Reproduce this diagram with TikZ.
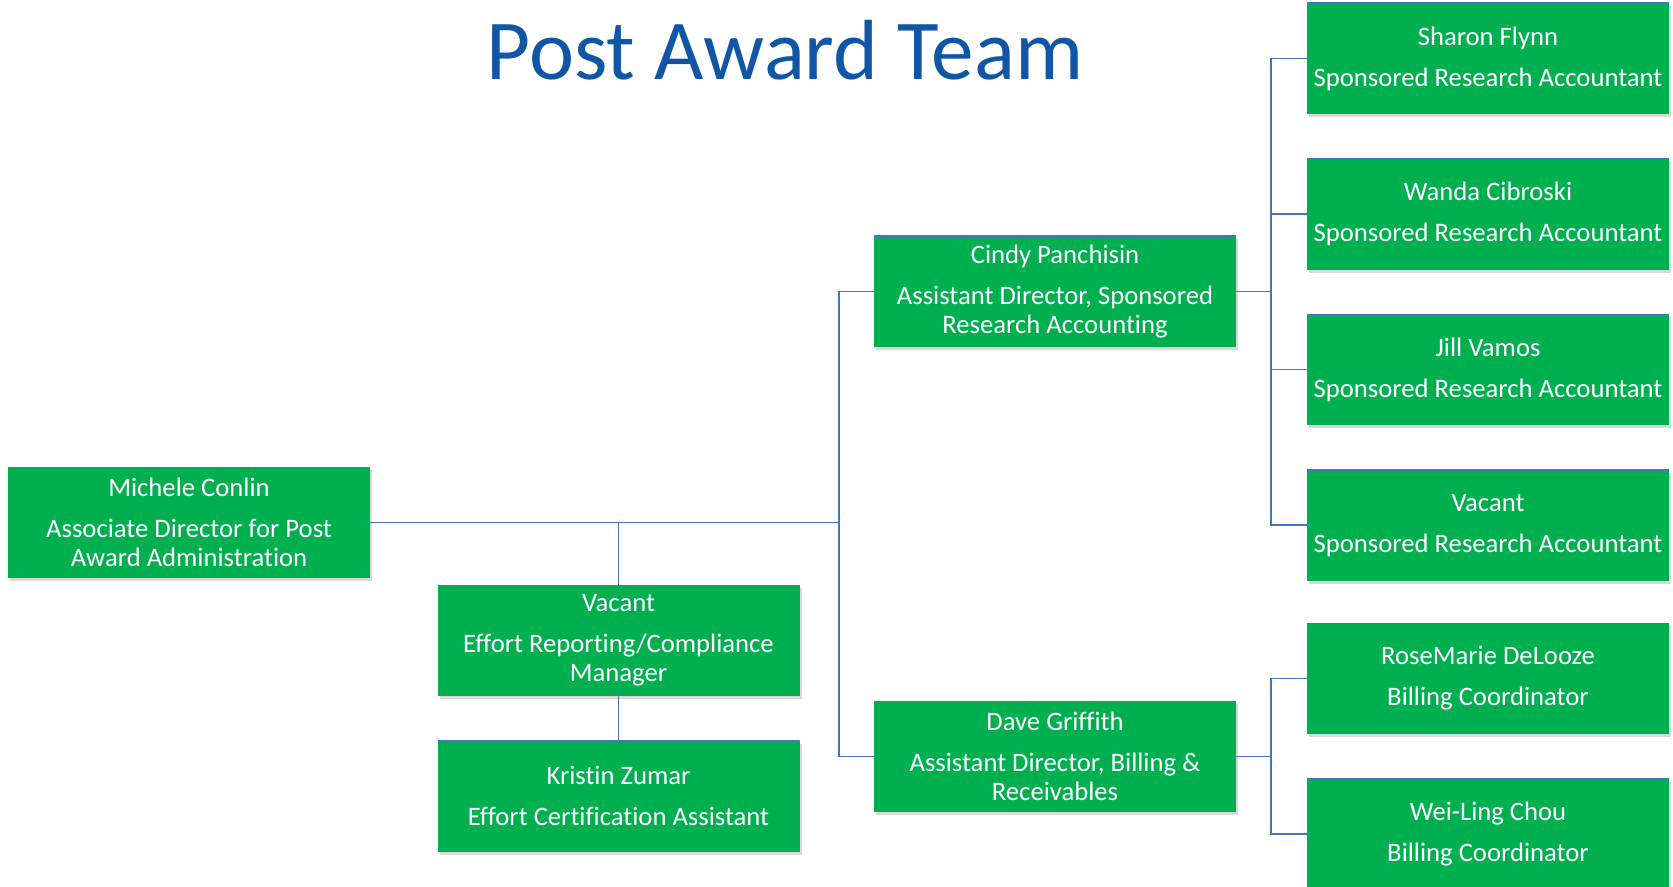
\documentclass[tikz,border=0pt]{standalone}
\usepackage{fontspec}
\setmainfont[Ligatures=NoCommon]{Carlito}
\usepackage{tikz}
\usetikzlibrary{positioning,shadows}
\definecolor{boxgreen}{RGB}{0,176,80}
\definecolor{linkblue}{RGB}{68,114,196}
\definecolor{titleblue}{RGB}{16,86,166}

\begin{document}
\begin{tikzpicture}[x=0.75pt, y=-0.75pt, node distance=33pt,
  person/.style={fill=boxgreen, text=white, align=center, minimum width=271.5pt, minimum height=83.25pt, inner sep=0pt,
    font=\fontsize{20}{21.75}\selectfont,
    drop shadow={shadow xshift=1.5pt, shadow yshift=-2.5pt, opacity=0.3},
    path picture={\draw[linkblue, line width=2pt] (path picture bounding box.north west) -- (path picture bounding box.north east);}},
  link/.style={draw=linkblue, line width=1.2pt}]
			\useasboundingbox (0,0) rectangle (1673,887);
			\clip (0,0) rectangle (1673,887);
			\node[anchor=base, text=titleblue, font=\fontsize{64}{68}\selectfont] (Title) at (785,80) {Post Award Team};
			\node[person] (Conlin) at (189,522.5) {Michele Conlin\\[9pt]Associate Director for Post\\Award Administration};
			\node[person] (Effort) at (618.5,640.5) {Vacant\\[9pt]Effort Reporting/Compliance\\Manager};
			\node[person, below=of Effort] (Zumar) {Kristin Zumar\\[9pt]Effort Certification Assistant};
			\node[person] (Panchisin) at (1055,291.5) {Cindy Panchisin\\[9pt]Assistant Director, Sponsored\\Research Accounting};
			\node[person] (Griffith) at (1055,756.5) {Dave Griffith\\[9pt]Assistant Director, Billing \&\\Receivables};
			\node[person] (Flynn) at (1488,58.5) {Sharon Flynn\\[9pt]Sponsored Research Accountant};
			\node[person, below=of Flynn] (Cibroski) {Wanda Cibroski\\[9pt]Sponsored Research Accountant};
			\node[person, below=of Cibroski] (Vamos) {Jill Vamos\\[9pt]Sponsored Research Accountant};
			\node[person, below=of Vamos] (VacantSRA) {Vacant\\[9pt]Sponsored Research Accountant};
			\node[person] (DeLooze) at (1488,678.5) {RoseMarie DeLooze\\[9pt]Billing Coordinator};
			\node[person, below=of DeLooze] (Chou) {Wei-Ling Chou\\[9pt]Billing Coordinator};
			\coordinate (Trunk) at (839,522.5);
			\coordinate (AccBus) at (1271,291.5);
			\coordinate (BillBus) at (1271,756.5);
			\draw[link] (Conlin.east) -- (Trunk);
			\draw[link] (Panchisin.west) -| (Trunk) |- (Griffith.west);
			\draw[link] (Effort.north) -- (Effort.north |- Conlin.east);
			\draw[link] (Effort) -- (Zumar);
			\draw[link] (Panchisin.east) -- (AccBus);
			\foreach \acc in {Flynn,Cibroski,Vamos,VacantSRA}
				\draw[link] (AccBus) |- (\acc.west);
			\draw[link] (Griffith.east) -- (BillBus);
			\foreach \bill in {DeLooze,Chou}
				\draw[link] (BillBus) |- (\bill.west);
		\end{tikzpicture}
\end{document}
